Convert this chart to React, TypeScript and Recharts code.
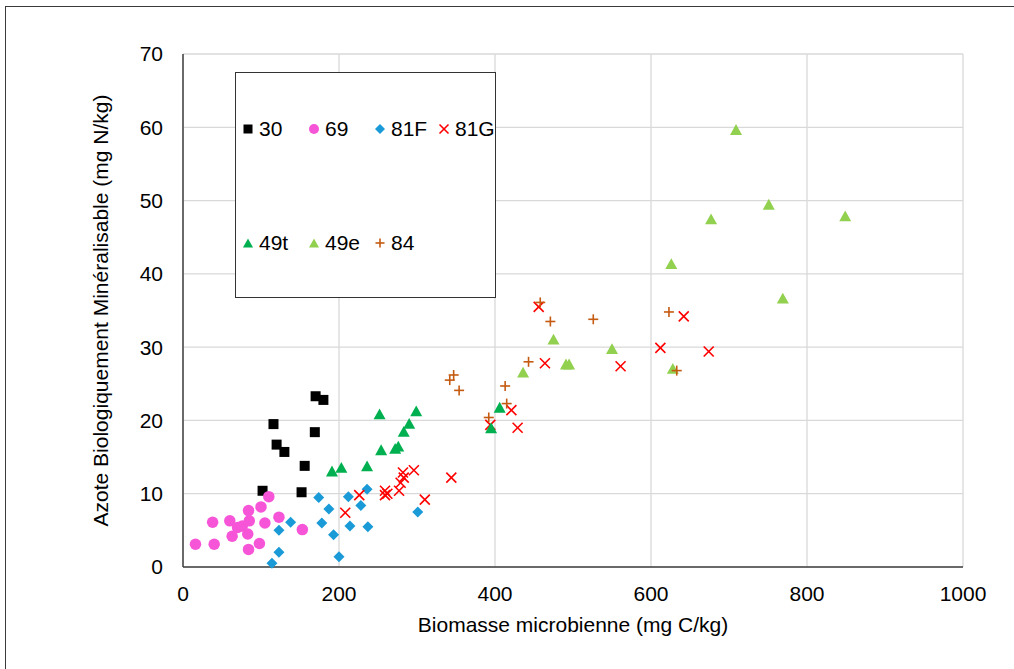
import React from 'react';
import { ScatterChart, Scatter, XAxis, YAxis, CartesianGrid, Label } from 'recharts';

// biomass (x) vs nitrogen (y), one array per soil
const s30 = [[170, 23.3], [180, 22.8], [116, 19.5], [169, 18.4], [120, 16.7], [130, 15.7], [156, 13.8], [102, 10.4], [152, 10.2]];
const s69 = [[16, 3.1], [40, 3.1], [38, 6.1], [60, 6.3], [63, 4.2], [70, 5.4], [76, 5.6], [83, 4.5], [85, 6.3], [84, 7.7], [84, 2.4], [98, 3.2], [105, 6.0], [100, 8.2], [110, 9.6], [123, 6.8], [153, 5.1]];
const s81F = [[174, 9.5], [212, 9.6], [236, 10.6], [187, 7.9], [228, 8.4], [138, 6.1], [123, 5.0], [178, 6.0], [214, 5.6], [237, 5.5], [193, 4.4], [301, 7.5], [123, 2.0], [114, 0.5], [200, 1.4]];
const s81G = [[208, 7.4], [226, 9.8], [259, 10.4], [259, 9.8], [262, 10.0], [277, 10.4], [279, 11.5], [283, 12.2], [282, 12.9], [296, 13.2], [310, 9.2], [344, 12.2], [394, 19.4], [421, 21.4], [429, 19.0], [456, 35.5], [464, 27.8], [561, 27.4], [612, 29.9], [642, 34.2], [674, 29.4]];
const s49t = [[191, 13.1], [203, 13.6], [236, 13.8], [254, 16.0], [272, 16.2], [276, 16.5], [283, 18.5], [290, 19.6], [252, 20.9], [299, 21.3], [406, 21.8], [395, 19.0]];
const s49e = [[709, 59.7], [751, 49.5], [849, 47.9], [677, 47.5], [626, 41.4], [769, 36.7], [475, 31.1], [550, 29.8], [491, 27.7], [495, 27.7], [436, 26.6], [628, 27.1]];
const s84 = [[342, 25.5], [347, 26.2], [354, 24.1], [392, 20.4], [413, 24.7], [415, 22.3], [443, 28.0], [471, 33.5], [458, 36.1], [526, 33.8], [623, 34.8], [633, 26.8]];

const xTicks = [0, 200, 400, 600, 800, 1000];
const yTicks = [0, 10, 20, 30, 40, 50, 60, 70];

const FONT = '"Liberation Sans", Arial, Helvetica, sans-serif';

const toPoints = (arr: number[][]) => arr.map(([x, y]) => ({ x, y }));

type Draw = (cx: number, cy: number, s: number, c: string) => React.ReactElement;

const square: Draw = (cx, cy, s, c) => <rect x={cx - s / 2} y={cy - s / 2} width={s} height={s} fill={c} />;
const circle: Draw = (cx, cy, s, c) => <circle cx={cx} cy={cy} r={s / 2} fill={c} />;
const diamond: Draw = (cx, cy, s, c) => (
  <polygon points={`${cx},${cy - s / 2} ${cx + s / 2},${cy} ${cx},${cy + s / 2} ${cx - s / 2},${cy}`} fill={c} />
);
const triangle: Draw = (cx, cy, s, c) => {
  const h = s * 0.9;
  return <polygon points={`${cx},${cy - h / 2} ${cx + s / 2},${cy + h / 2} ${cx - s / 2},${cy + h / 2}`} fill={c} />;
};
const xMark: Draw = (cx, cy, s, c) => (
  <g stroke={c} strokeWidth={1.6}>
    <line x1={cx - s / 2} y1={cy - s / 2} x2={cx + s / 2} y2={cy + s / 2} />
    <line x1={cx - s / 2} y1={cy + s / 2} x2={cx + s / 2} y2={cy - s / 2} />
  </g>
);
const plus: Draw = (cx, cy, s, c) => (
  <g stroke={c} strokeWidth={1.6}>
    <line x1={cx - s / 2} y1={cy} x2={cx + s / 2} y2={cy} />
    <line x1={cx} y1={cy - s / 2} x2={cx} y2={cy + s / 2} />
  </g>
);

const series = [
  { name: '30', data: s30, color: '#000000', draw: square, size: 10, lsize: 9 },
  { name: '69', data: s69, color: '#F655D8', draw: circle, size: 11.5, lsize: 10 },
  { name: '81F', data: s81F, color: '#1A9BD7', draw: diamond, size: 11, lsize: 10 },
  { name: '81G', data: s81G, color: '#FF0000', draw: xMark, size: 10, lsize: 9 },
  { name: '49t', data: s49t, color: '#00B050', draw: triangle, size: 12, lsize: 10 },
  { name: '49e', data: s49e, color: '#92D050', draw: triangle, size: 12, lsize: 10 },
  { name: '84', data: s84, color: '#C55A11', draw: plus, size: 10, lsize: 9 },
];

const legendCols = [6, 72, 138, 202];
const legendRows = [44, 158];

const YTitle = (props: any) => {
  const { x, y, height } = props.viewBox;
  const cx = x + 100;
  const cy = y + height / 2;
  return (
    <text x={cx} y={cy} transform={`rotate(-90 ${cx} ${cy})`} textAnchor="middle" dominantBaseline="central"
      fontSize={21} fontFamily={FONT} fill="#000">
      Azote Biologiquement Minéralisable (mg N/kg)
    </text>
  );
};

export default function App() {
  return (
    <div style={{ position: 'absolute', left: 0, top: 0, width: 1014, height: 669, overflow: 'hidden', background: '#fff' }}>
      <div style={{ position: 'absolute', left: 5, top: 6, width: 1040, height: 700, border: '1.5px solid #3a3a3a' }} />
      <div style={{ position: 'absolute', left: 0, top: 0 }}>
        <ScatterChart width={1014} height={669} margin={{ top: 54, right: 51, bottom: 37, left: 0 }}>
          <CartesianGrid stroke="#d9d9d9" strokeWidth={1.3} />
          <XAxis type="number" dataKey="x" domain={[0, 1000]} ticks={xTicks} interval={0} height={65}
            tickLine={false} tickSize={0} tickMargin={19}
            axisLine={{ stroke: '#404040', strokeWidth: 1.5 }}
            tick={{ fill: '#000', fontSize: 21, fontFamily: FONT }}>
            <Label value="Biomasse microbienne (mg C/kg)" position="insideBottom" offset={0}
              style={{ fill: '#000', fontSize: 21, fontFamily: FONT }} />
          </XAxis>
          <YAxis type="number" dataKey="y" domain={[0, 70]} ticks={yTicks} interval={0} width={183}
            tickLine={false} tickSize={0} tickMargin={20}
            axisLine={{ stroke: '#404040', strokeWidth: 1.5 }}
            tick={{ fill: '#000', fontSize: 21, fontFamily: FONT }}
            label={{ content: YTitle }} />
          {series.map((s) => (
            <Scatter key={s.name} name={s.name} data={toPoints(s.data)} isAnimationActive={false}
              shape={(p: any) => s.draw(p.cx, p.cy, s.size, s.color)} />
          ))}
        </ScatterChart>
      </div>
      <div style={{ position: 'absolute', left: 235, top: 72, width: 261, height: 226, boxSizing: 'border-box', border: '1.5px solid #333', background: '#fff' }}>
        {series.map((s, i) => (
          <div key={s.name} style={{ position: 'absolute', left: legendCols[i % 4], top: legendRows[Math.floor(i / 4)], height: 24, display: 'flex', alignItems: 'center', fontFamily: FONT, fontSize: 21, color: '#000', whiteSpace: 'nowrap' }}>
            <svg width={12} height={12} style={{ display: 'block' }}>{s.draw(6, 6, s.lsize, s.color)}</svg>
            <span style={{ marginLeft: 5 }}>{s.name}</span>
          </div>
        ))}
      </div>
    </div>
  );
}
